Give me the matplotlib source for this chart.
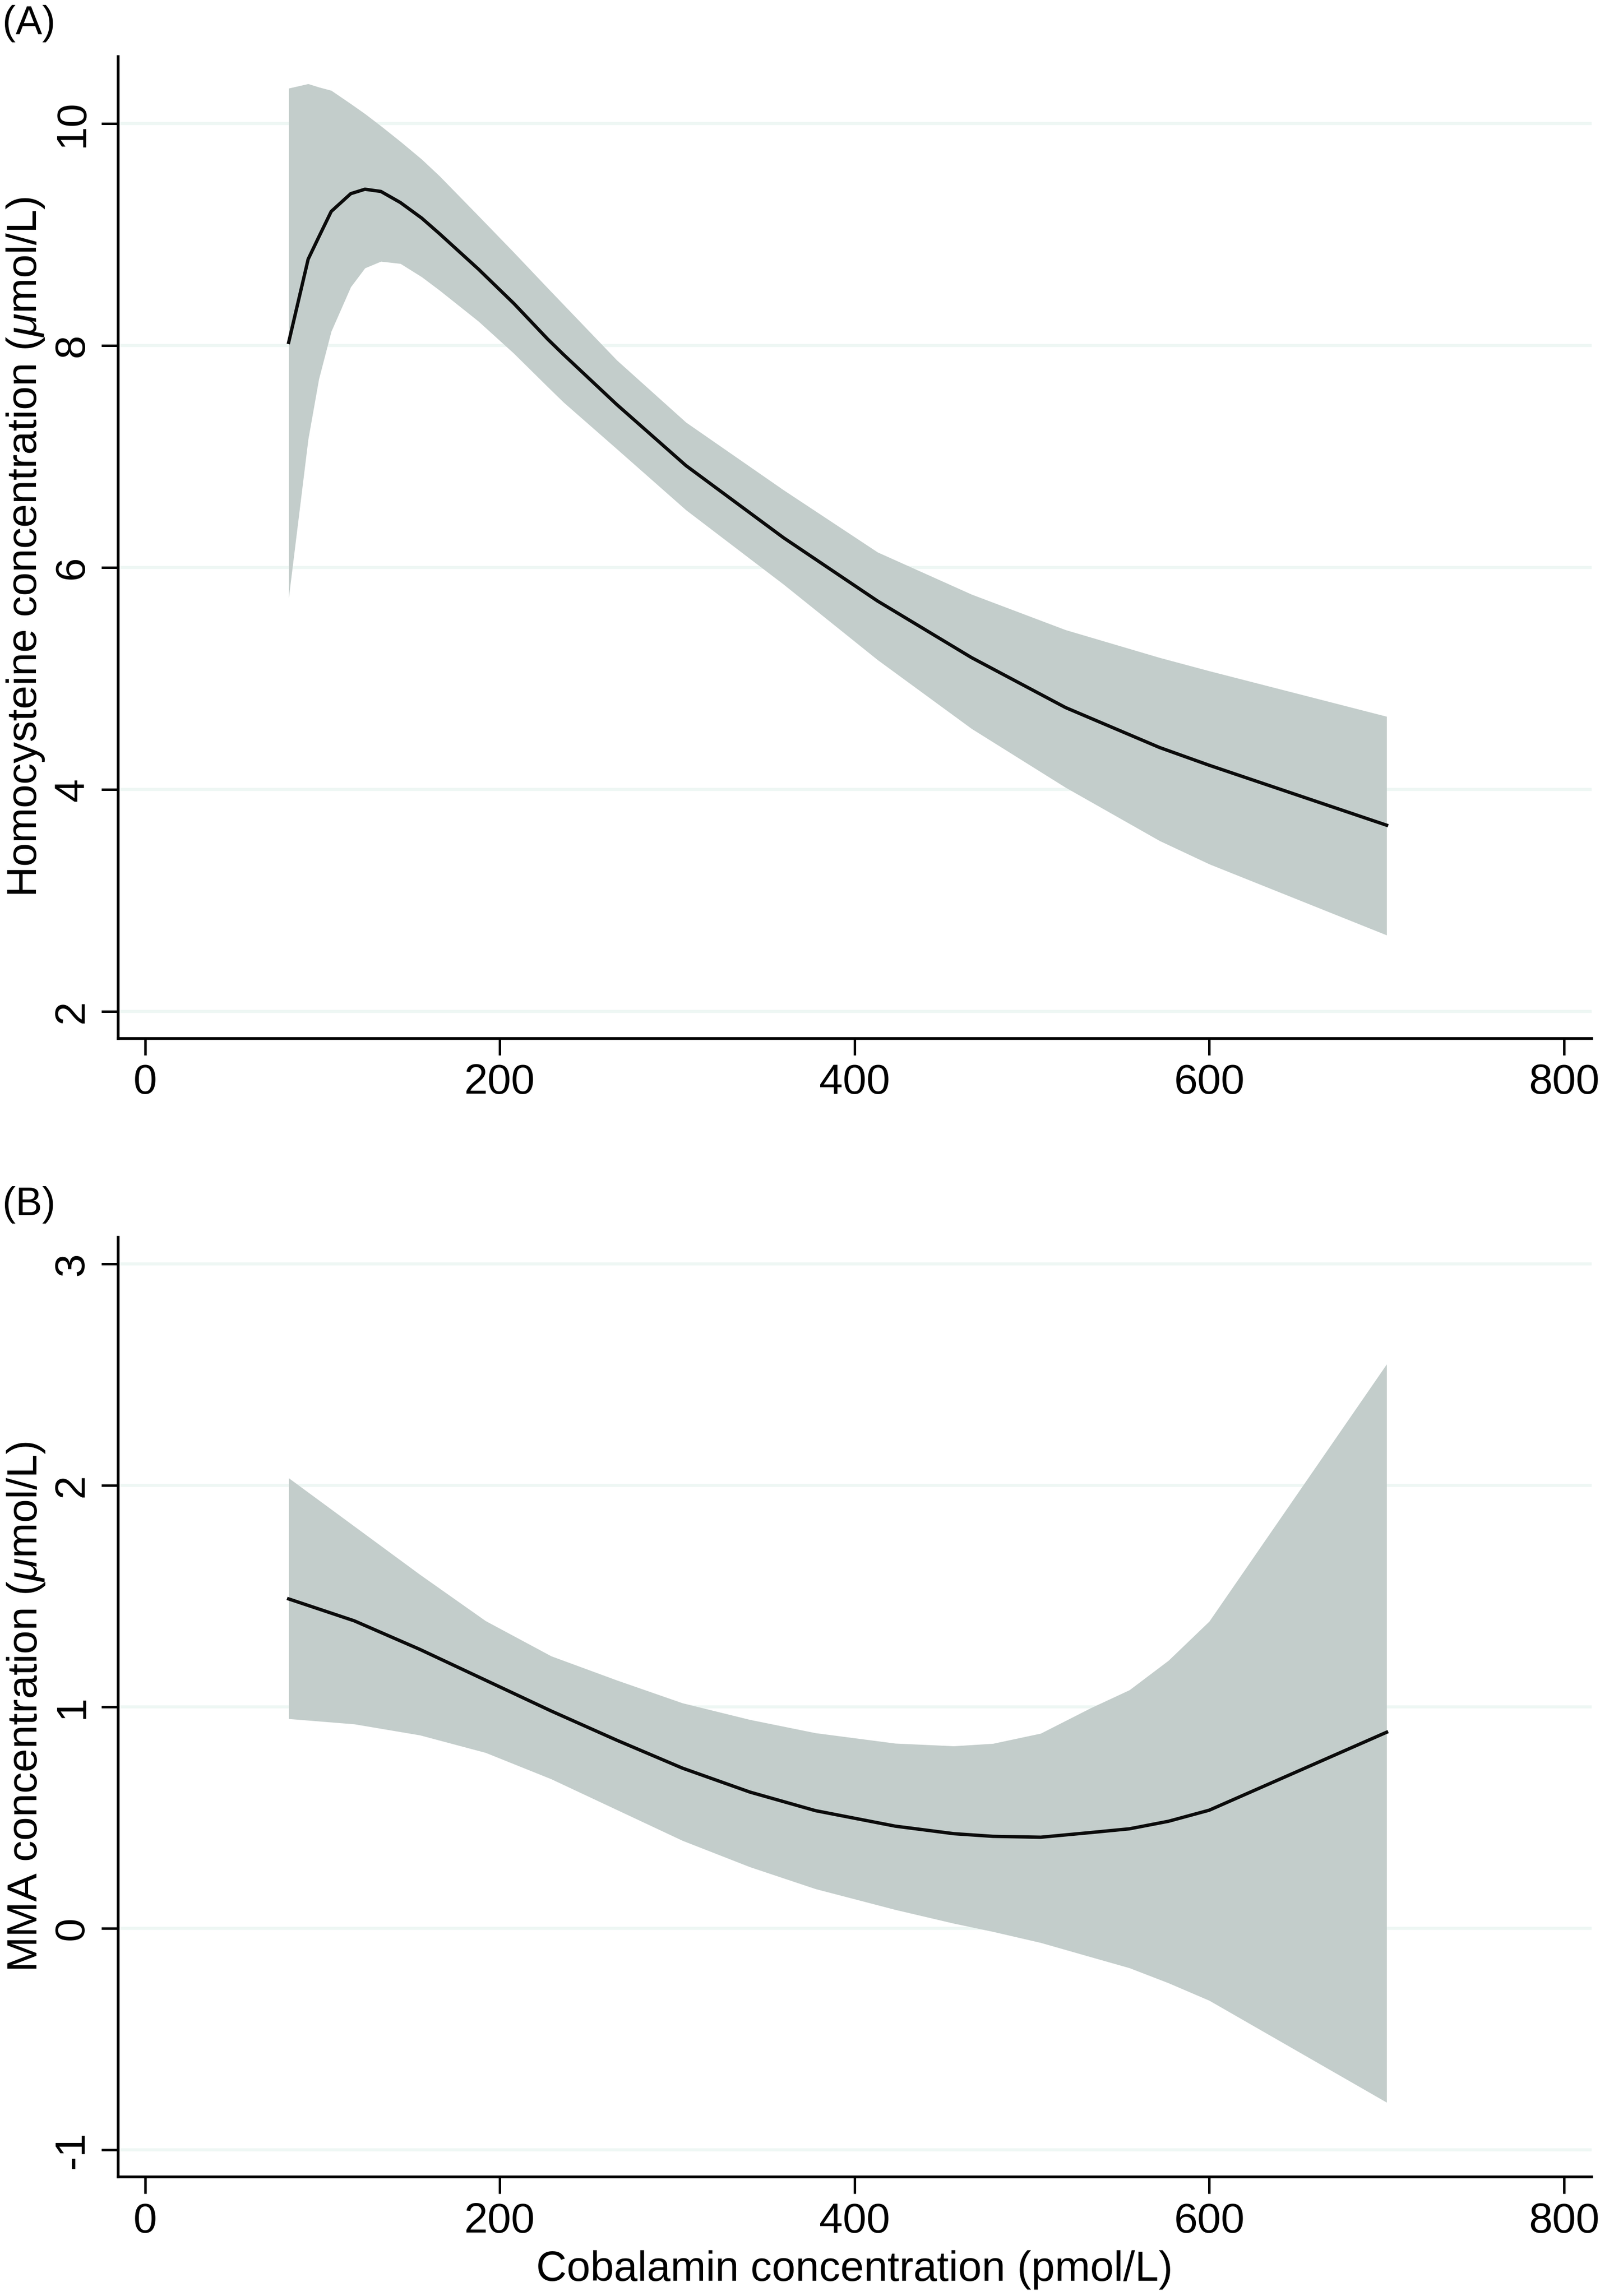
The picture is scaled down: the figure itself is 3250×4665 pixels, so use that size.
import matplotlib
matplotlib.use("Agg")
import matplotlib.pyplot as plt

plt.rcParams['font.family'] = ['Liberation Sans', 'DejaVu Sans']
plt.rcParams['mathtext.fontset'] = 'custom'
plt.rcParams['mathtext.rm'] = 'Liberation Sans'
plt.rcParams['mathtext.it'] = 'Liberation Sans:italic'

# ---- data ----
hcy_x = [81, 92, 98, 105, 116, 124, 133, 144, 156, 166, 188, 208, 227, 236, 266, 305, 360, 413, 466, 519, 572, 600, 700]
hcy_fit = [8.03, 8.78, 8.98, 9.21, 9.37, 9.41, 9.39, 9.29, 9.15, 9.01, 8.69, 8.38, 8.06, 7.92, 7.47, 6.92, 6.27, 5.70, 5.19, 4.74, 4.38, 4.22, 3.68]
hcy_hi = [10.32, 10.36, 10.33, 10.30, 10.18, 10.09, 9.98, 9.84, 9.68, 9.53, 9.17, 8.84, 8.52, 8.37, 7.87, 7.31, 6.70, 6.14, 5.76, 5.44, 5.19, 5.07, 4.66]
hcy_lo = [5.73, 7.16, 7.70, 8.13, 8.53, 8.70, 8.76, 8.74, 8.62, 8.50, 8.22, 7.93, 7.63, 7.49, 7.07, 6.52, 5.85, 5.17, 4.55, 4.02, 3.54, 3.33, 2.69]

mma_x = [81, 118, 155, 192, 229, 266, 303, 341, 378, 423, 456, 478, 505, 533, 555, 577, 600, 700]
mma_fit = [1.488, 1.389, 1.260, 1.121, 0.982, 0.850, 0.724, 0.616, 0.532, 0.462, 0.428, 0.416, 0.412, 0.433, 0.450, 0.484, 0.534, 0.886]
mma_hi = [2.034, 1.816, 1.598, 1.389, 1.230, 1.121, 1.018, 0.943, 0.883, 0.836, 0.824, 0.835, 0.881, 0.995, 1.077, 1.210, 1.387, 2.548]
mma_lo = [0.947, 0.923, 0.873, 0.794, 0.675, 0.536, 0.397, 0.278, 0.179, 0.085, 0.023, -0.014, -0.064, -0.128, -0.178, -0.246, -0.325, -0.785]

x_ticks = [0, 200, 400, 600, 800]
hcy_ticks = [2, 4, 6, 8, 10]
mma_ticks = [-1, 0, 1, 2, 3]

x_label = "Cobalamin concentration (pmol/L)"
hcy_label = r"Homocysteine concentration ($\mu$mol/L)"
mma_label = r"MMA concentration ($\mu$mol/L)"

# ---- style ----
W, H = 3250, 4665
DPI = 100
FILL = '#C3CDCB'
LINE = '#0B0B0B'
GRID = '#EEF7F4'
FS = 62
LW_AX = 4.0

fig = plt.figure(figsize=(W / DPI, H / DPI), dpi=DPI)
fig.patch.set_facecolor('white')

left = 240 / W
width = (3233 - 240) / W
axA = fig.add_axes([left, 1 - 2109.6 / H, width, (2109.6 - 115) / H])
axB = fig.add_axes([left, 1 - 4423 / H, width, (4423 - 2513.8) / H])


def style(ax, x, fit, lo, hi, yticks, ylim):
    ax.fill_between(x, lo, hi, color=FILL, linewidth=0, zorder=2)
    ax.plot(x, fit, color=LINE, linewidth=4.9, zorder=3)
    ax.set_xlim(-15.13, 815.6)
    ax.set_ylim(*ylim)
    ax.set_xticks(x_ticks)
    ax.set_yticks(yticks)
    ax.set_xticklabels([str(v) for v in x_ticks])
    ax.set_yticklabels([str(v) for v in yticks])
    ax.set_axisbelow(True)
    ax.yaxis.grid(True, color=GRID, linewidth=4.5, zorder=0)
    ax.xaxis.grid(False)
    for s in ['top', 'right']:
        ax.spines[s].set_visible(False)
    for s in ['left', 'bottom']:
        ax.spines[s].set_linewidth(LW_AX)
        ax.spines[s].set_color('black')
        ax.spines[s].set_capstyle('projecting')
    ax.tick_params(axis='both', direction='out', length=24.5, width=3.6,
                   color='black', labelsize=FS, labelcolor='black')
    ax.tick_params(axis='x', pad=12)
    ax.tick_params(axis='y', pad=26.6)
    for lab in ax.get_yticklabels():
        lab.set_rotation(90)
        lab.set_rotation_mode('anchor')
        lab.set_ha('center')
        lab.set_va('baseline')


style(axA, hcy_x, hcy_fit, hcy_lo, hcy_hi, hcy_ticks, (1.760, 10.605))
style(axB, mma_x, mma_fit, mma_lo, mma_hi, mma_ticks, (-1.1216, 3.121))

# axis titles
fig.text(74 / W, 1 - 1112 / H, hcy_label, rotation=90, rotation_mode='anchor',
         ha='center', va='baseline', fontsize=FS)
fig.text(75 / W, 1 - 3468 / H, mma_label, rotation=90, rotation_mode='anchor',
         ha='center', va='baseline', fontsize=FS)
fig.text(1736 / W, 1 - 4634.5 / H, x_label, ha='center', va='baseline', fontsize=FS)

# panel letters
fig.text(5 / W, 1 - 10 / H, '(A)', ha='left', va='top', fontsize=58)
fig.text(5 / W, 1 - 2410 / H, '(B)', ha='left', va='top', fontsize=58)

fig.savefig('out.png', dpi=DPI, facecolor='white')
